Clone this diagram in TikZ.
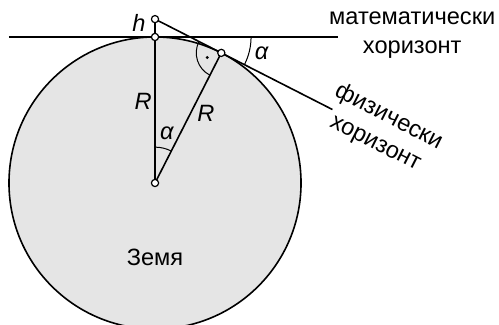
\documentclass[tikz,border=0pt]{standalone}
\usepackage{fontspec}
\setmainfont{Liberation Sans}
\usetikzlibrary{positioning}

\begin{document}
\begin{tikzpicture}[
font=\fontsize{11.8}{14.5}\selectfont,
earth/.style={draw, line width=0.8pt, fill=black!10},
line/.style={line width=0.8pt},
pt/.style={circle, draw, line width=0.6pt, fill=white, inner sep=0pt, minimum size=3.6pt},
anglearc/.style={line width=0.5pt}
]
\useasboundingbox (-2.724,-2.478) rectangle (6.045,3.216);
\def\R{2.566}
% geometry
\coordinate (c) at (0,0);
\coordinate (t) at (90:\R);
\coordinate (h) at (0,{\R/cos(27)});
\coordinate (p) at (63:\R);
\coordinate (v) at (0.616,\R);
\coordinate (hl) at (-\R,\R);
\coordinate (hr) at (3.216,\R);
\coordinate (te) at ([shift={(-27:3.5)}]h);
\draw[earth] (c) circle[radius=\R];
\draw[line] (hl) -- (hr);
\draw[line] (h) -- (te);
\draw[line] (h) -- (c);
\draw[line] (c) -- (p);
% angles
\draw[anglearc] ([shift={(90:0.63)}]c) arc[start angle=90, end angle=63, radius=0.63];
\draw[anglearc] ([shift={(0:1.072)}]v) arc[start angle=0, end angle=-27, radius=1.072];
\draw[anglearc] ([shift={(153:0.44)}]p) arc[start angle=153, end angle=243, radius=0.44];
\fill ([shift={(198:0.26)}]p) circle[radius=0.8pt];
\foreach \q in {c,t,h,p}
  \node[pt] (\q dot) at (\q) {};
% labels
\node (hlab) at (-0.281,2.812) {\itshape h};
\node (rleft) at (-0.21,1.44) {\itshape R};
\node (rright) at (0.896,1.23) {\itshape R};
\node (alow) at (0.206,0.879) {\itshape α};
\node (ahigh) at (1.875,2.285) {\itshape α};
\node (earthlab) at (0,-1.3) {Земя};
\node[align=center] (mathhor) at (4.52,2.6) {математически\\хоризонт};
\node[align=center, rotate=-27, inner sep=0pt] (physhor) at (3.99,0.93) {физически\\хоризонт};
\end{tikzpicture}
\end{document}
